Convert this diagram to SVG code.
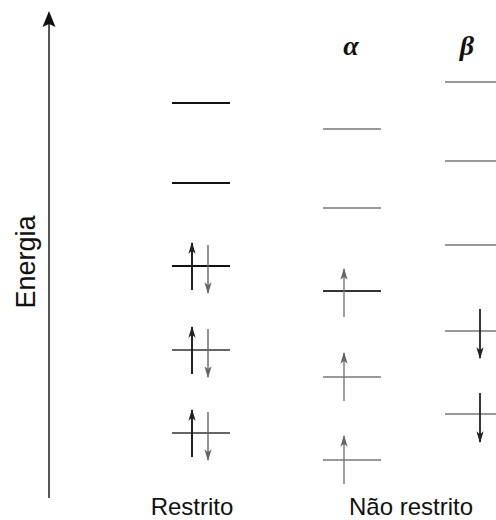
<svg xmlns="http://www.w3.org/2000/svg" width="496" height="520" viewBox="0 0 496 520">
<style>
.lvR{stroke:#111;stroke-width:2;fill:none}
.lvRt{stroke:#333;stroke-width:1.4;fill:none}
.lvU{stroke:#777;stroke-width:1.4;fill:none}
.lvUd{stroke:#333;stroke-width:2;fill:none}
.upd{stroke:#222;stroke-width:2;fill:none;marker-end:url(#hd)}
.upg{stroke:#777;stroke-width:1.4;fill:none;marker-end:url(#hg)}
.dng{stroke:#666;stroke-width:1.4;fill:none;marker-end:url(#hg)}
.dnd{stroke:#222;stroke-width:1.8;fill:none;marker-end:url(#hd)}
.lbl{font-family:"Liberation Sans",Arial,sans-serif;font-size:24px;fill:#111}
.gr{font-family:"Liberation Serif","Times New Roman",serif;font-style:italic;font-weight:bold;font-size:28px;fill:#111}
</style>
<defs>
<marker id="hd" viewBox="0 0 10 10" refX="9" refY="5" markerWidth="12" markerHeight="12" markerUnits="userSpaceOnUse" orient="auto">
<path d="M0,2 L10,5 L0,8 L2.5,5 z" fill="#222"/>
</marker>
<marker id="hg" viewBox="0 0 10 10" refX="9" refY="5" markerWidth="12" markerHeight="12" markerUnits="userSpaceOnUse" orient="auto">
<path d="M0,2 L10,5 L0,8 L2.5,5 z" fill="#666"/>
</marker>
</defs>
<g id="axis">
<line x1="49" y1="498" x2="49" y2="24" stroke="#555" stroke-width="2"/>
<path d="M49,11 L55.5,27 L49,24 L42.5,27 z" fill="#111"/>
<text class="lbl" transform="translate(35,262) rotate(-90)" text-anchor="middle" style="font-size:27px">Energia</text>
</g>
<g id="restrito">
<line class="lvR" x1="172" y1="103" x2="230" y2="103"/>
<line class="lvR" x1="172" y1="183" x2="230" y2="183"/>
<line class="lvR" x1="172" y1="266" x2="230" y2="266"/>
<line class="lvRt" x1="172" y1="350" x2="230" y2="350"/>
<line class="lvRt" x1="172" y1="433" x2="230" y2="433"/>
<text class="lbl" x="192" y="515" text-anchor="middle">Restrito</text>
</g>
<g id="alpha">
<text class="gr" x="351" y="55" text-anchor="middle">α</text>
<line class="lvU" x1="323" y1="129" x2="381" y2="129"/>
<line class="lvU" x1="323" y1="208" x2="381" y2="208"/>
<line class="lvUd" x1="323" y1="291" x2="381" y2="291"/>
<line class="lvU" x1="323" y1="377" x2="381" y2="377"/>
<line class="lvU" x1="323" y1="460" x2="381" y2="460"/>
</g>
<g id="beta">
<text class="gr" x="467" y="55" text-anchor="middle">β</text>
<line class="lvU" x1="445" y1="82" x2="496" y2="82"/>
<line class="lvU" x1="445" y1="161" x2="496" y2="161"/>
<line class="lvU" x1="445" y1="245" x2="496" y2="245"/>
<line class="lvU" x1="445" y1="331" x2="496" y2="331"/>
<line class="lvU" x1="445" y1="414" x2="496" y2="414"/>
</g>
<text class="lbl" x="411" y="515" text-anchor="middle">Não restrito</text>
<g id="connectors">
<line class="upd" x1="192" y1="290" x2="192" y2="243"/>
<line class="dng" x1="208" y1="245" x2="208" y2="293"/>
<line class="upd" x1="192" y1="374" x2="192" y2="327"/>
<line class="dng" x1="208" y1="329" x2="208" y2="377"/>
<line class="upd" x1="192" y1="457" x2="192" y2="410"/>
<line class="dng" x1="208" y1="412" x2="208" y2="460"/>
<line class="upg" x1="344" y1="317" x2="344" y2="269"/>
<line class="upg" x1="344" y1="401" x2="344" y2="353"/>
<line class="upg" x1="344" y1="484" x2="344" y2="436"/>
<line class="dnd" x1="480" y1="309" x2="480" y2="358"/>
<line class="dnd" x1="480" y1="393" x2="480" y2="442"/>
</g>
</svg>
